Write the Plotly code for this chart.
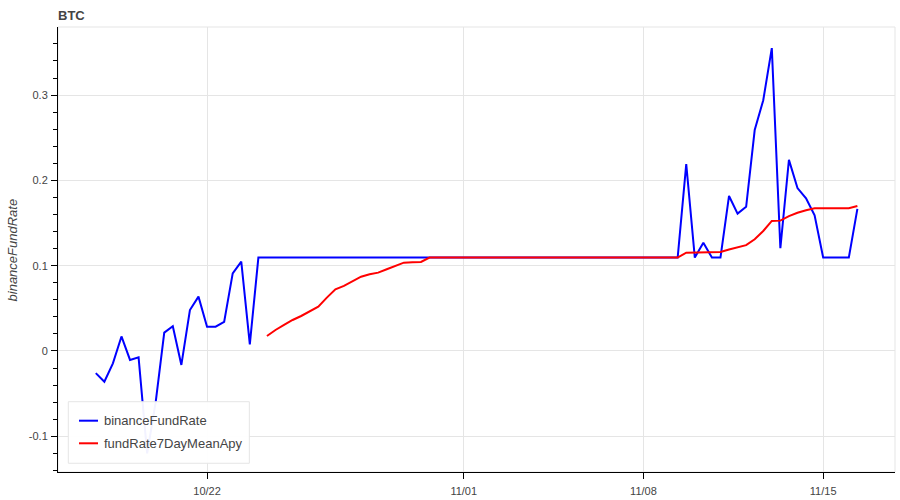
import pandas as pd
import plotly.graph_objects as go

# Funding timestamps every 8 hours
times = pd.date_range("2023-10-17 16:00", periods=90, freq="8h")

binance_fund_rate = [
    -0.026, -0.036, -0.0145, 0.017, -0.0105, -0.0075, -0.12, -0.06, 0.0215, 0.029,
    -0.0164, 0.048, 0.0637, 0.0285, 0.0285, 0.034, 0.091, 0.1047, 0.0078, 0.1095,
    0.1095, 0.1095, 0.1095, 0.1095, 0.1095, 0.1095, 0.1095, 0.1095, 0.1095, 0.1095,
    0.1095, 0.1095, 0.1095, 0.1095, 0.1095, 0.1095, 0.1095, 0.1095, 0.1095, 0.1095,
    0.1095, 0.1095, 0.1095, 0.1095, 0.1095, 0.1095, 0.1095, 0.1095, 0.1095, 0.1095,
    0.1095, 0.1095, 0.1095, 0.1095, 0.1095, 0.1095, 0.1095, 0.1095, 0.1095, 0.1095,
    0.1095, 0.1095, 0.1095, 0.1095, 0.1095, 0.1095, 0.1095, 0.1095, 0.1095, 0.219,
    0.1095, 0.127, 0.1095, 0.1095, 0.1817, 0.161, 0.169, 0.259, 0.294, 0.355,
    0.1204, 0.224, 0.191, 0.179, 0.159, 0.1095, 0.1095, 0.1095, 0.1095, 0.1665,
]

# 7-day mean starts once 21 samples are available
mean_start = 20
fund_rate_7day_mean_apy = [
    0.0176, 0.0246, 0.0305, 0.0363, 0.041, 0.046, 0.052, 0.0625, 0.0723, 0.0762,
    0.0813, 0.0871, 0.0899, 0.0918, 0.0958, 0.0996, 0.1035, 0.1039, 0.1043, 0.1095,
    0.1095, 0.1095, 0.1095, 0.1095, 0.1095, 0.1095, 0.1095, 0.1095, 0.1095, 0.1095,
    0.1095, 0.1095, 0.1095, 0.1095, 0.1095, 0.1095, 0.1095, 0.1095, 0.1095, 0.1095,
    0.1095, 0.1095, 0.1095, 0.1095, 0.1095, 0.1095, 0.1095, 0.1095, 0.1095, 0.1152,
    0.1156, 0.116, 0.116, 0.116, 0.119, 0.1215, 0.124, 0.131, 0.1407, 0.1524,
    0.1528, 0.158, 0.162, 0.165, 0.1673, 0.1673, 0.1673, 0.1673, 0.1673, 0.170,
]

series_names = ["binanceFundRate", "fundRate7DayMeanApy"]
series_colors = ["#0000ff", "#ff0000"]

x_tick_vals = ["2023-10-22", "2023-11-01", "2023-11-08", "2023-11-15"]
x_tick_text = ["10/22", "11/01", "11/08", "11/15"]
y_tick_vals = [-0.1, 0, 0.1, 0.2, 0.3]
y_tick_text = ["-0.1", "0", "0.1", "0.2", "0.3"]

FONT = "Liberation Sans, Arial, Helvetica, sans-serif"
TXT = "#444444"
GRID = "#e5e5e5"

fig = go.Figure()
fig.add_trace(go.Scatter(
    x=times, y=binance_fund_rate, mode="lines", name=series_names[0],
    line=dict(color=series_colors[0], width=2), showlegend=False,
))
fig.add_trace(go.Scatter(
    x=times[mean_start:], y=fund_rate_7day_mean_apy, mode="lines",
    name=series_names[1], line=dict(color=series_colors[1], width=2), showlegend=False,
))

# legend box (drawn in paper coordinates)
shapes = [
    dict(type="rect", xref="paper", yref="paper", x0=0, x1=1, y0=0, y1=1,
         line=dict(color=GRID, width=1), layer="below"),
    dict(type="rect", xref="paper", yref="paper", x0=0.0123, x1=0.2286, y0=0.0196, y1=0.158,
         line=dict(color=GRID, width=1), fillcolor="rgba(255,255,255,0.95)", layer="above"),
]
annotations = [
    dict(text="<b>BTC</b>", xref="paper", yref="paper", x=0, y=1.025, xshift=-2,
         xanchor="left", yanchor="middle", showarrow=False,
         font=dict(family=FONT, size=13, color=TXT)),
    dict(text="<i>binanceFundRate</i>", xref="paper", yref="paper", x=-0.0538, y=0.5,
         xanchor="center", yanchor="middle", textangle=-90, showarrow=False,
         font=dict(family=FONT, size=13, color=TXT)),
]
legend_rows = [0.1153, 0.0645]
for name, color, yy in zip(series_names, series_colors, legend_rows):
    shapes.append(dict(type="line", xref="paper", yref="paper", x0=0.0251, x1=0.0478,
                       y0=yy, y1=yy, line=dict(color=color, width=2), layer="above"))
    annotations.append(dict(text=name, xref="paper", yref="paper", x=0.0530, y=yy,
                            xanchor="left", yanchor="middle", showarrow=False,
                            font=dict(family=FONT, size=13, color=TXT)))

fig.update_layout(
    width=900, height=500,
    margin=dict(l=58, r=5, t=27, b=28, autoexpand=False),
    paper_bgcolor="white", plot_bgcolor="white",
    font=dict(family=FONT, size=11, color=TXT),
    showlegend=False,
    xaxis=dict(
        range=["2023-10-16 04:40", "2023-11-17 19:10"],
        tickmode="array", tickvals=x_tick_vals, ticktext=x_tick_text,
        showgrid=True, gridcolor=GRID, gridwidth=1,
        showline=True, linecolor="black", linewidth=1,
        ticks="outside", ticklen=6, tickcolor="black",
        ticklabelstandoff=3, automargin=False,
        zeroline=False,
    ),
    yaxis=dict(
        range=[-0.1419, 0.3798],
        tickmode="array", tickvals=y_tick_vals, ticktext=y_tick_text,
        showgrid=True, gridcolor=GRID, gridwidth=1,
        showline=True, linecolor="black", linewidth=1,
        ticks="outside", ticklen=6, tickcolor="black",
        ticklabelstandoff=1, automargin=False,
        minor=dict(tick0=0, dtick=0.02, ticks="outside", ticklen=4, tickcolor="black", showgrid=False),
        zeroline=False,
    ),
    shapes=shapes,
    annotations=annotations,
)

fig.write_html("out.html", config={"displayModeBar": False},
               post_script="document.body.style.margin='0';document.body.style.overflow='hidden';")
